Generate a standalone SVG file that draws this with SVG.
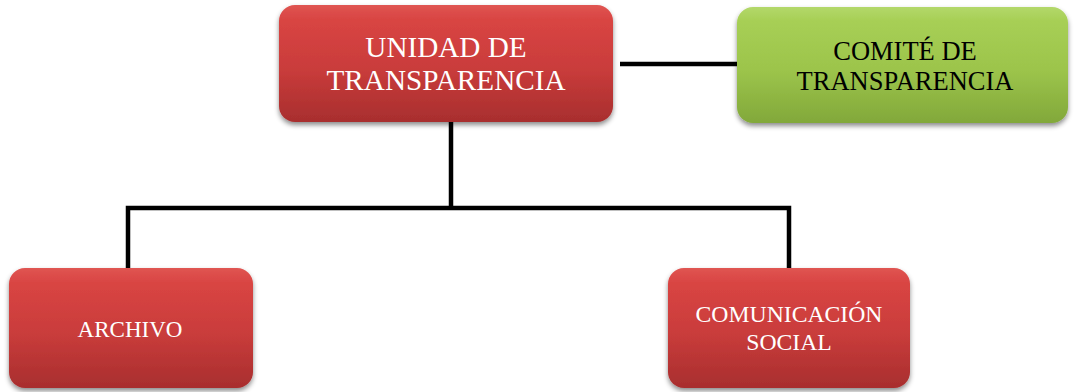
<svg xmlns="http://www.w3.org/2000/svg" width="1074" height="392" viewBox="0 0 1074 392">
<defs>
<linearGradient id="red" x1="0" y1="0" x2="0" y2="1">
<stop offset="0" stop-color="#e05552"/>
<stop offset="0.12" stop-color="#d94543"/>
<stop offset="0.55" stop-color="#c93c3b"/>
<stop offset="1" stop-color="#a82e2e"/>
</linearGradient>
<linearGradient id="green" x1="0" y1="0" x2="0" y2="1">
<stop offset="0" stop-color="#b3d86a"/>
<stop offset="0.12" stop-color="#a7cf55"/>
<stop offset="0.55" stop-color="#9cc44b"/>
<stop offset="1" stop-color="#82a83a"/>
</linearGradient>
<filter id="sh" x="-10%" y="-10%" width="120%" height="130%">
<feDropShadow dx="0" dy="3" stdDeviation="2.5" flood-color="#000" flood-opacity="0.45"/>
</filter>
</defs>
<style>
.red{fill:url(#red);filter:url(#sh)}
.green{fill:url(#green);filter:url(#sh)}
.t{font-family:"Liberation Serif","Times New Roman",serif;text-anchor:middle}
.w{fill:#ffffff}
.k{fill:#000000}
.c{fill:none;stroke:#000;stroke-width:4.5;stroke-linejoin:miter}
</style>
<g id="connectors">
<path class="c" d="M620 64 H737"/>
<path class="c" d="M451 122 V208"/>
<path class="c" d="M128 268 V208 H789 V268"/>
</g>
<g id="unidad">
<rect class="red" x="279" y="5" width="334" height="117" rx="16"/>
<text class="t w" x="446" y="57" font-size="29.2">UNIDAD DE</text>
<text class="t w" x="446" y="90" font-size="29.2">TRANSPARENCIA</text>
</g>
<g id="comite">
<rect class="green" x="737" y="7" width="331" height="116" rx="16"/>
<text class="t k" x="905" y="60" font-size="26.5">COMITÉ DE</text>
<text class="t k" x="905" y="90" font-size="26.5">TRANSPARENCIA</text>
</g>
<g id="archivo">
<rect class="red" x="9" y="268" width="244" height="120" rx="16"/>
<text class="t w" x="130" y="337" font-size="23">ARCHIVO</text>
</g>
<g id="comunicacion">
<rect class="red" x="668" y="268" width="242" height="120" rx="16"/>
<text class="t w" x="789" y="322" font-size="23.7">COMUNICACIÓN</text>
<text class="t w" x="789" y="350" font-size="23.7">SOCIAL</text>
</g>
</svg>
